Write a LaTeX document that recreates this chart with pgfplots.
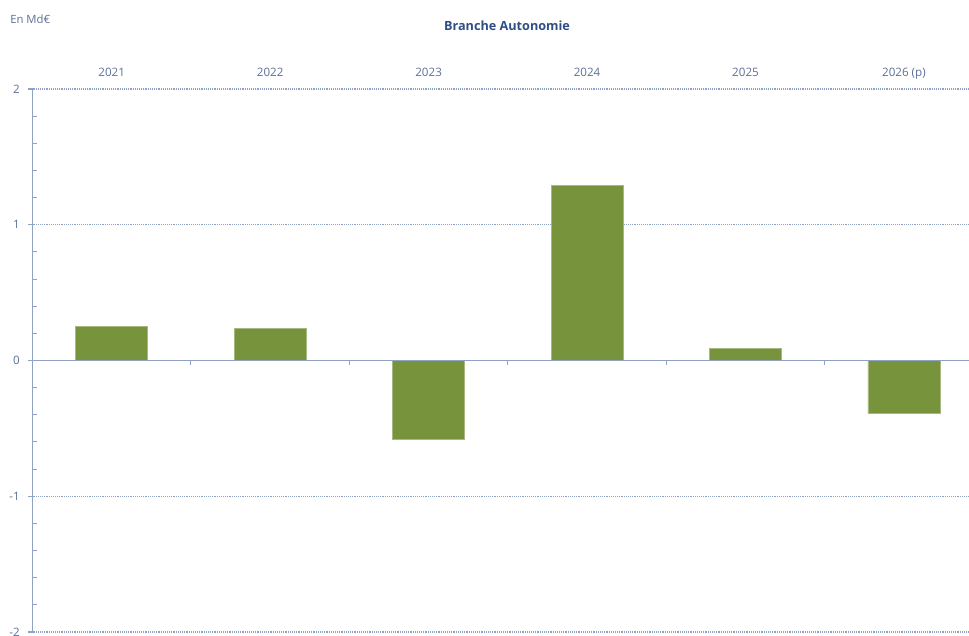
\documentclass[border=0pt]{standalone}
\usepackage{fontspec}
\setmainfont{Open Sans}
\usepackage{pgfplots}
\pgfplotsset{compat=1.18}
\definecolor{lab}{HTML}{5B6F98}
\definecolor{ttl}{HTML}{2F4E85}
\definecolor{axl}{HTML}{8FA2C4}
\definecolor{barc}{HTML}{77933C}
\begin{document}
\begin{tikzpicture}[x=0.75pt,y=0.75pt]
\useasboundingbox (0,0) rectangle (969,635);
\clip (0,0) rectangle (969,635);
\node[text=lab,font=\fontsize{8.5}{10}\selectfont,anchor=west,inner sep=0pt] at (10,616) {En Md€};
\node[text=ttl,font=\fontsize{9.5}{11}\bfseries\selectfont] at (507,609) {Branche Autonomie};
\begin{axis}[
  at={(24.375pt,2.25pt)}, anchor=south west, scale only axis,
  width=713pt, height=407.25pt,
  xmin=-0.5, xmax=5.5, ymin=-2, ymax=2,
  axis y line*=left, axis x line*=top,
  axis line style={axl, line width=1.2pt, -},
  x axis line style={draw=none},
  xtick={0,...,5},
  xticklabels={2021,2022,2023,2024,2025,2026 (p)},
  x tick style={draw=none},
  xticklabel style={text=lab, font=\fontsize{8.7}{10}\selectfont, anchor=base, yshift=6pt},
  ytick={-2,...,2},
  yticklabels={-2,-1,0,1,2},
  yticklabel style={text=lab, font=\fontsize{8.7}{10}\selectfont, xshift=-3pt},
  minor y tick num=4,
  tick align=outside,
  major tick length=3pt,
  minor tick length=3pt,
  tick style={axl, line width=0.8pt},
  major tick style={axl, line width=0.8pt},
  minor tick style={axl, line width=0.8pt},
  every minor tick/.append style={xshift=3pt},
  ymajorgrids,
  major grid style={axl, densely dotted, line width=0.8pt},
  ybar, bar width=54pt, bar shift=0pt,
  clip=false,
]
\addplot[fill=barc, draw=barc!65!white, line width=0.5pt]
  coordinates {(0,0.25) (1,0.238) (2,-0.583) (3,1.289) (4,0.09) (5,-0.39)};
\draw[axl, line width=1.2pt] (axis cs:-0.5,0) -- (axis cs:5.5,0);
\pgfplotsinvokeforeach{0.5,1.5,2.5,3.5,4.5}{
  \draw[axl, line width=0.8pt] (axis cs:#1,0) -- ++(0pt,-3pt);
}
\end{axis}
\end{tikzpicture}
\end{document}
